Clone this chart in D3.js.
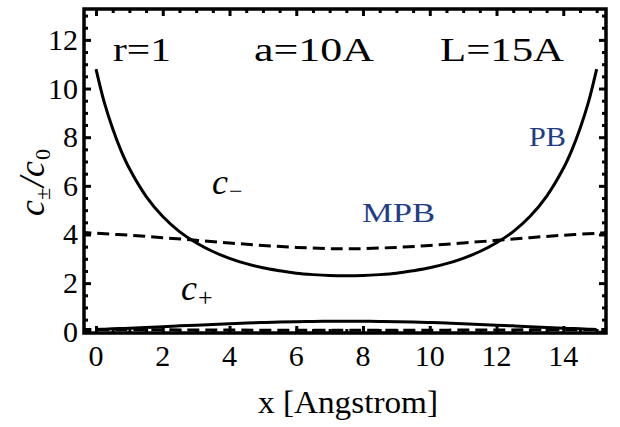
<!DOCTYPE html>
<html>
<head>
<meta charset="utf-8">
<script src="https://cdn.jsdelivr.net/npm/d3@7"></script>
<style>
  body { margin: 0; background: #fff; }
</style>
</head>
<body>
<div id="chart"></div>
<script>
// PB curves (solid)
const pbX = [0, 0.25, 0.5, 0.75, 1, 1.5, 2, 2.5, 3, 3.5, 4, 4.5, 5, 5.5, 6, 6.5, 7, 7.5,
             8, 8.5, 9, 9.5, 10, 10.5, 11, 11.5, 12, 12.5, 13, 13.5, 14, 14.25, 14.5, 14.75, 15];
const pbMinus = [10.8, 9.42, 8.35, 7.45, 6.71, 5.57, 4.74, 4.12, 3.66, 3.30, 3.02, 2.80, 2.63, 2.51, 2.41, 2.35, 2.31, 2.30,
                 2.31, 2.35, 2.41, 2.51, 2.63, 2.80, 3.02, 3.30, 3.66, 4.12, 4.74, 5.57, 6.71, 7.45, 8.35, 9.42, 10.8];
const pbPlus = [0.093, 0.106, 0.120, 0.134, 0.149, 0.180, 0.211, 0.243, 0.273, 0.303, 0.331, 0.357, 0.380, 0.398, 0.415, 0.426, 0.433, 0.435,
                0.433, 0.426, 0.415, 0.398, 0.380, 0.357, 0.331, 0.303, 0.273, 0.243, 0.211, 0.180, 0.149, 0.134, 0.120, 0.106, 0.093];

// MPB curves (dashed)
const mpbX = [-0.5, 0, 1, 2, 3, 4, 5, 6, 7, 7.5, 8, 9, 10, 11, 12, 13, 14, 15, 15.5];
const mpbMinus = [4.10, 4.05, 3.97, 3.87, 3.76, 3.65, 3.55, 3.47, 3.42, 3.41, 3.42, 3.47, 3.55, 3.65, 3.76, 3.87, 3.97, 4.05, 4.10];
const mpbPlus = [0.09, 0.09, 0.085, 0.08, 0.075, 0.07, 0.065, 0.06, 0.06, 0.06, 0.06, 0.06, 0.065, 0.07, 0.075, 0.08, 0.085, 0.09, 0.09];

const xMajor = [0, 2, 4, 6, 8, 10, 12, 14];
const yMajor = [0, 2, 4, 6, 8, 10, 12];

const W = 620, H = 427;
const box = { left: 84, right: 606, top: 9, bottom: 333 };
const FONT = "Liberation Serif";

const svg = d3.select("#chart").append("svg")
  .attr("width", W)
  .attr("height", H);

const x = d3.scaleLinear().domain([-0.36, 15.28]).range([box.left, box.right]);
const y = d3.scaleLinear().domain([-0.05, 13.27]).range([box.bottom, box.top]);

const xMinor = d3.range(0, 15.01, 0.5).filter(v => !xMajor.includes(v));
const yMinor = d3.range(0, 13.01, 0.5).filter(v => !yMajor.includes(v));

svg.append("defs").append("clipPath").attr("id", "clip")
  .append("rect")
  .attr("x", box.left).attr("y", box.top)
  .attr("width", box.right - box.left).attr("height", box.bottom - box.top);

// tick marks only (inside, all four sides)
function tickAxis(axisFn, scale, values, size, pos) {
  const a = axisFn(scale).tickValues(values).tickSizeInner(-size).tickSizeOuter(0).tickFormat("");
  const g = svg.append("g").attr("transform", pos).call(a);
  g.select(".domain").remove();
  g.selectAll(".tick line").attr("stroke", "#000").attr("stroke-width", 3);
  return g;
}
const bottomPos = `translate(0,${box.bottom})`;
const topPos = `translate(0,${box.top})`;
const leftPos = `translate(${box.left},0)`;
const rightPos = `translate(${box.right},0)`;

tickAxis(d3.axisBottom, x, xMajor, 7, bottomPos);
tickAxis(d3.axisBottom, x, xMinor, 4, bottomPos);
tickAxis(d3.axisTop, x, xMajor, 7, topPos);
tickAxis(d3.axisTop, x, xMinor, 4, topPos);
tickAxis(d3.axisLeft, y, yMajor, 7, leftPos);
tickAxis(d3.axisLeft, y, yMinor, 4, leftPos);
tickAxis(d3.axisRight, y, yMajor, 7, rightPos);
tickAxis(d3.axisRight, y, yMinor, 4, rightPos);

// tick labels
svg.selectAll("text.xlab").data(xMajor).join("text")
  .attr("class", "xlab")
  .attr("x", d => x(d)).attr("y", 366)
  .attr("font-family", FONT).attr("font-size", 30)
  .attr("text-anchor", "middle")
  .text(d => d);
svg.selectAll("text.ylab").data(yMajor).join("text")
  .attr("class", "ylab")
  .attr("x", 78).attr("y", d => y(d) + 10)
  .attr("font-family", FONT).attr("font-size", 30)
  .attr("text-anchor", "end")
  .text(d => d);

// curves
const line = d3.line().curve(d3.curveCatmullRom);
const plot = svg.append("g").attr("clip-path", "url(#clip)");

function drawCurve(xs, ys, dashed) {
  plot.append("path")
    .attr("d", line(xs.map((v, i) => [x(v), y(ys[i])])))
    .attr("fill", "none")
    .attr("stroke", "#000")
    .attr("stroke-width", 3)
    .attr("stroke-dasharray", dashed ? "12,6" : null);
}
drawCurve(mpbX, mpbMinus, true);
drawCurve(mpbX, mpbPlus, true);
drawCurve(pbX, pbMinus, false);
drawCurve(pbX, pbPlus, false);

// frame
svg.append("rect")
  .attr("x", box.left).attr("y", box.top)
  .attr("width", box.right - box.left).attr("height", box.bottom - box.top)
  .attr("fill", "none").attr("stroke", "#000").attr("stroke-width", 3.5);

// annotations
function label(txt, px, py, size, len, color, italic) {
  return svg.append("text")
    .attr("x", px).attr("y", py)
    .attr("font-family", FONT)
    .attr("font-size", size)
    .attr("font-style", italic ? "italic" : null)
    .attr("fill", color || "#000")
    .attr("textLength", len)
    .attr("lengthAdjust", len ? "spacingAndGlyphs" : null)
    .text(txt);
}
label("r=1", 113, 61, 33, 58);
label("a=10A", 254, 61, 33, 120);
label("L=15A", 440, 61, 33, 124);

const blue = "#1f3d87";
label("PB", 529, 146, 28, 37, blue);
label("MPB", 362, 222, 28, 73, blue);

label("c", 212, 194, 36, null, null, true);
label("\u2212", 229, 199, 24);
label("c", 181, 300, 36, null, null, true);
label("+", 198, 306, 26);

// axis labels
label("x [Angstrom]", 258, 413, 32, 180);

const yl = svg.append("g").attr("transform", "translate(44,172) rotate(-90)");
yl.append("text").attr("x", -44).attr("y", 0)
  .attr("font-family", FONT).attr("font-size", 36).attr("font-style", "italic").text("c");
yl.append("text").attr("x", -28).attr("y", 6)
  .attr("font-family", FONT).attr("font-size", 22).text("\u00b1");
yl.append("text").attr("x", -15).attr("y", 0)
  .attr("font-family", FONT).attr("font-size", 36).attr("font-style", "italic").text("/c");
yl.append("text").attr("x", 12).attr("y", 6)
  .attr("font-family", FONT).attr("font-size", 22).text("0");
</script>
</body>
</html>
